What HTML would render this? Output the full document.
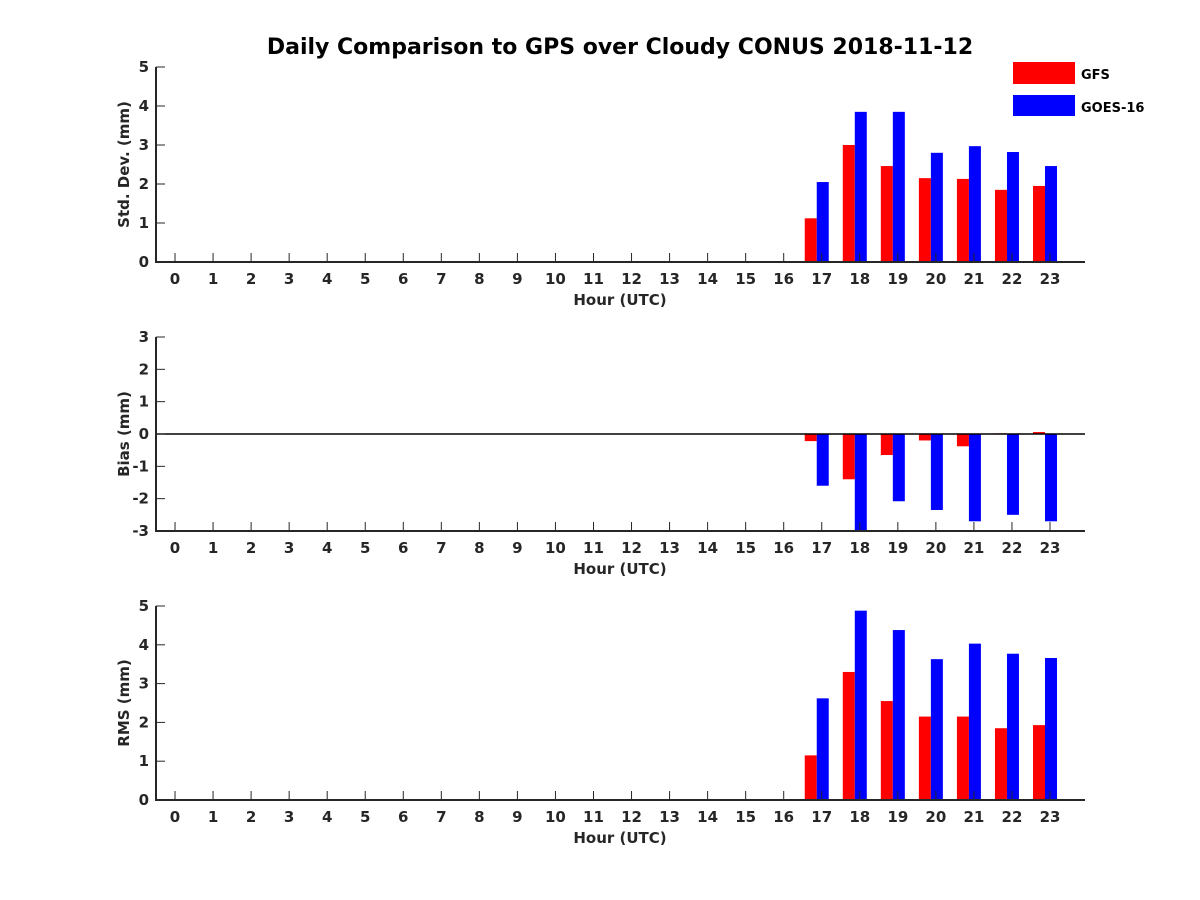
<!DOCTYPE html>
<html><head><meta charset="utf-8"><style>
body{margin:0;background:#fff;}
svg{display:block;font-family:"DejaVu Sans","Liberation Sans",sans-serif;font-weight:bold;}
</style></head><body>
<svg id="fig" width="1200" height="900" viewBox="0 0 1200 900">
<rect width="1200" height="900" fill="#fff"/>
<text x="620" y="54" text-anchor="middle" font-size="22" fill="#000">Daily Comparison to GPS over Cloudy CONUS 2018-11-12</text>
<g>
<rect x="1013" y="62" width="62" height="22" fill="#ff0000"/>
<text x="1081" y="79" font-size="13">GFS</text>
<rect x="1013" y="95" width="62" height="21" fill="#0000ff"/>
<text x="1081" y="112" font-size="13">GOES-16</text>
</g>
</svg>
<script>
const hours = [];
for (let h = 0; h < 24; h++) hours.push(h);
const barHours = [17,18,19,20,21,22,23];
const stdGFS = [1.12,3.0,2.46,2.15,2.13,1.85,1.95];
const stdGOES = [2.05,3.85,3.85,2.8,2.97,2.82,2.46];
const biasGFS = [-0.22,-1.4,-0.65,-0.2,-0.38,0.02,0.06];
const biasGOES = [-1.6,-2.98,-2.08,-2.35,-2.7,-2.5,-2.7];
const rmsGFS = [1.15,3.3,2.55,2.15,2.15,1.85,1.93];
const rmsGOES = [2.62,4.88,4.38,3.63,4.03,3.77,3.66];
const stdTicks = [0,1,2,3,4,5];
const biasTicks = [-3,-2,-1,0,1,2,3];
const rmsTicks = [0,1,2,3,4,5];

const NS = "http://www.w3.org/2000/svg";
const svg = document.getElementById('fig');
function mk(tag, attrs, parent){const e=document.createElementNS(NS,tag);for(const k in attrs)e.setAttribute(k,attrs[k]);(parent||svg).appendChild(e);return e;}
const X0 = 156, X1 = 1085, XMIN = -0.5, XMAX = 23.92;
function xs(h){return X0 + (h - XMIN) / (XMAX - XMIN) * (X1 - X0);}
const BAR_SHIFT = -5;

function panel(name, top, bottom, ymin, ymax, ticks, ylabel, gfs, goes, zeroLine){
  const g = mk('g', {});
  
  
  const ys = v => bottom - (v - ymin) / (ymax - ymin) * (bottom - top);
  const bw = 12;
  barHours.forEach((h, i) => {
    const y0 = ys(0);
    const c = xs(h) + BAR_SHIFT;
    const r = mk('rect', {x: c - bw, y: Math.min(ys(gfs[i]), y0), width: bw, height: Math.abs(ys(gfs[i]) - y0), fill: '#ff0000'}, g);
    
    
    const b = mk('rect', {x: c, y: Math.min(ys(goes[i]), y0), width: bw, height: Math.abs(ys(goes[i]) - y0), fill: '#0000ff'}, g);
    
    
  });
  if (zeroLine) {
    const z = mk('line', {x1: X0, x2: X1, y1: ys(0), y2: ys(0), stroke: '#000', 'stroke-width': 1.5}, g);
    
    
  }
  const ax = mk('path', {d: `M${X0},${top}V${bottom}H${X1}`, fill: 'none', stroke: '#262626', 'stroke-width': 2}, g);
  
  
  ticks.forEach(t => {
    const y = ys(t);
    mk('line', {x1: X0, x2: X0 + 9, y1: y, y2: y, stroke: '#262626', 'stroke-width': 1}, g);
    const tx = mk('text', {x: X0 - 7, y: y + 5, 'text-anchor': 'end', 'font-size': 15, fill: '#262626'}, g);
    tx.textContent = t;
    
    
  });
  hours.forEach(h => {
    const x = xs(h);
    mk('line', {x1: x, x2: x, y1: bottom, y2: bottom - 9, stroke: '#262626', 'stroke-width': 1}, g);
    const tx = mk('text', {x: x, y: bottom + 22, 'text-anchor': 'middle', 'font-size': 15, fill: '#262626'}, g);
    tx.textContent = h;
    
    
  });
  const xl = mk('text', {x: 620, y: bottom + 43, 'text-anchor': 'middle', 'font-size': 15, fill: '#262626'}, g);
  xl.textContent = 'Hour (UTC)';
  
  
  const cy = (top + bottom) / 2;
  const yl = mk('text', {x: 0, y: 0, transform: `translate(129,${cy}) rotate(-90)`, 'text-anchor': 'middle', 'font-size': 15, fill: '#262626'}, g);
  yl.textContent = ylabel;
  
  
}
panel('std-dev', 67, 262, 0, 5, stdTicks, 'Std. Dev. (mm)', stdGFS, stdGOES, false);
panel('bias', 337, 531, -3, 3, biasTicks, 'Bias (mm)', biasGFS, biasGOES, true);
panel('rms', 606, 800, 0, 5, rmsTicks, 'RMS (mm)', rmsGFS, rmsGOES, false);
</script>
</body></html>
